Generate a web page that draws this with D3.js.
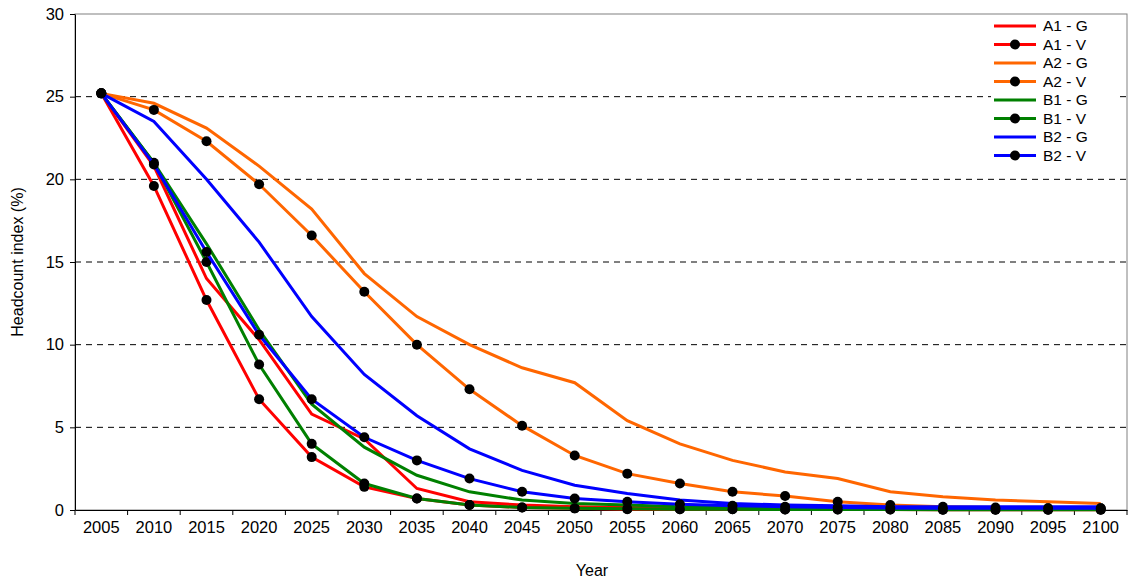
<!DOCTYPE html>
<html><head><meta charset="utf-8">
<script src="https://cdn.jsdelivr.net/npm/d3@7"></script>
<style>body{margin:0;background:#fff}text{font-family:"Liberation Sans",Arial,sans-serif}</style>
</head><body><svg id="c" width="1131" height="588"></svg>
<script>
const years=[2005,2010,2015,2020,2025,2030,2035,2040,2045,2050,2055,2060,2065,2070,2075,2080,2085,2090,2095,2100];
const yTicks=[0,5,10,15,20,25,30];
const A1G=[25.2,20.8,14.0,10.3,5.8,4.3,1.3,0.5,0.3,0.2,0.15,0.12,0.1,0.1,0.08,0.07,0.06,0.05,0.05,0.05];
const A1V=[25.2,19.6,12.7,6.7,3.2,1.4,0.7,0.3,0.15,0.1,0.05,0.05,0.04,0.03,0.03,0.03,0.02,0.02,0.02,0.02];
const A2G=[25.2,24.6,23.1,20.8,18.2,14.3,11.7,10.0,8.6,7.7,5.4,4.0,3.0,2.3,1.9,1.1,0.8,0.6,0.5,0.4];
const A2V=[25.2,24.2,22.3,19.7,16.6,13.2,10.0,7.3,5.1,3.3,2.2,1.6,1.1,0.85,0.5,0.3,0.2,0.15,0.1,0.1];
const B1G=[25.2,21.0,16.1,10.9,6.4,3.8,2.1,1.1,0.6,0.4,0.3,0.2,0.15,0.1,0.08,0.07,0.06,0.05,0.05,0.05];
const B1V=[25.2,21.0,15.0,8.8,4.0,1.6,0.7,0.3,0.15,0.1,0.07,0.05,0.04,0.03,0.03,0.03,0.02,0.02,0.02,0.02];
const B2G=[25.2,23.5,20.0,16.2,11.7,8.2,5.7,3.7,2.4,1.5,1.0,0.6,0.4,0.3,0.25,0.2,0.2,0.2,0.2,0.2];
const B2V=[25.2,20.9,15.6,10.6,6.7,4.4,3.0,1.9,1.1,0.7,0.5,0.35,0.25,0.2,0.15,0.12,0.1,0.1,0.1,0.1];
const series=[["A1 - G",A1G,"#ff0000",false],["A1 - V",A1V,"#ff0000",true],["A2 - G",A2G,"#ff6600",false],["A2 - V",A2V,"#ff6600",true],
["B1 - G",B1G,"#008000",false],["B1 - V",B1V,"#008000",true],["B2 - G",B2G,"#0000ff",false],["B2 - V",B2V,"#0000ff",true]];
const svg=d3.select("#c");
const L=75,R=1127,T=14,B=510;
const x=d3.scaleBand().domain(years).range([L,R]);
const y=d3.scaleLinear().domain([0,30]).range([B,T]);
svg.append("g").selectAll("line").data(yTicks.filter(d=>d>0&&d<30)).join("line")
 .attr("x1",L).attr("x2",R).attr("y1",d=>y(d)).attr("y2",d=>y(d)).attr("stroke","#000").attr("stroke-dasharray","6,5").attr("stroke-width",1);
svg.append("rect").attr("x",L).attr("y",T).attr("width",R-L).attr("height",B-T).attr("fill","none").attr("stroke","#808080");
const ya=svg.append("g").attr("transform",`translate(${L},0)`).call(d3.axisLeft(y).tickValues(yTicks).tickSize(5).tickSizeOuter(0));
const xa=svg.append("g").attr("transform",`translate(0,${B})`).call(d3.axisBottom(x).tickSize(0).tickPadding(11));
svg.append("g").selectAll("line").data(d3.range(years.length+1)).join("line")
 .attr("x1",i=>L+i*x.step()).attr("x2",i=>L+i*x.step()).attr("y1",B).attr("y2",B+5).attr("stroke","#000");
[ya,xa].forEach(a=>{a.selectAll("text").attr("font-size",16.5).attr("fill","#000").attr("font-family","Liberation Sans");a.select(".domain").attr("stroke","#000");a.selectAll(".tick line").attr("stroke","#000");});
ya.selectAll("text").attr("dx",-3);
const cx=d=>x(d)+x.bandwidth()/2;
const line=d3.line().x((d,i)=>cx(years[i])).y(d=>y(d));
series.forEach(([n,v,c,m])=>{
 svg.append("path").attr("d",line(v)).attr("fill","none").attr("stroke",c).attr("stroke-width",3);
 if(m) svg.append("g").selectAll("circle").data(v).join("circle").attr("cx",(d,i)=>cx(years[i])).attr("cy",d=>y(d)).attr("r",5).attr("fill","#000");
});
svg.append("text").attr("x",592).attr("y",576).attr("text-anchor","middle").attr("font-size",16).text("Year");
svg.append("text").attr("transform","translate(23,262) rotate(-90)").attr("text-anchor","middle").attr("font-size",16).text("Headcount index (%)");
const lg=svg.append("g").attr("transform","translate(994,16)");
lg.append("rect").attr("x",-3).attr("y",0).attr("width",128).attr("height",160).attr("fill","#fff");
series.forEach(([n,v,c,m],i)=>{
 const yy=i*18.5+ 10;
 lg.append("line").attr("x1",0).attr("x2",42).attr("y1",yy).attr("y2",yy).attr("stroke",c).attr("stroke-width",3);
 if(m) lg.append("circle").attr("cx",21).attr("cy",yy).attr("r",5).attr("fill","#000");
 lg.append("text").attr("x",49).attr("y",yy+5).attr("font-size",15.5).text(n);
});
</script></body></html>
